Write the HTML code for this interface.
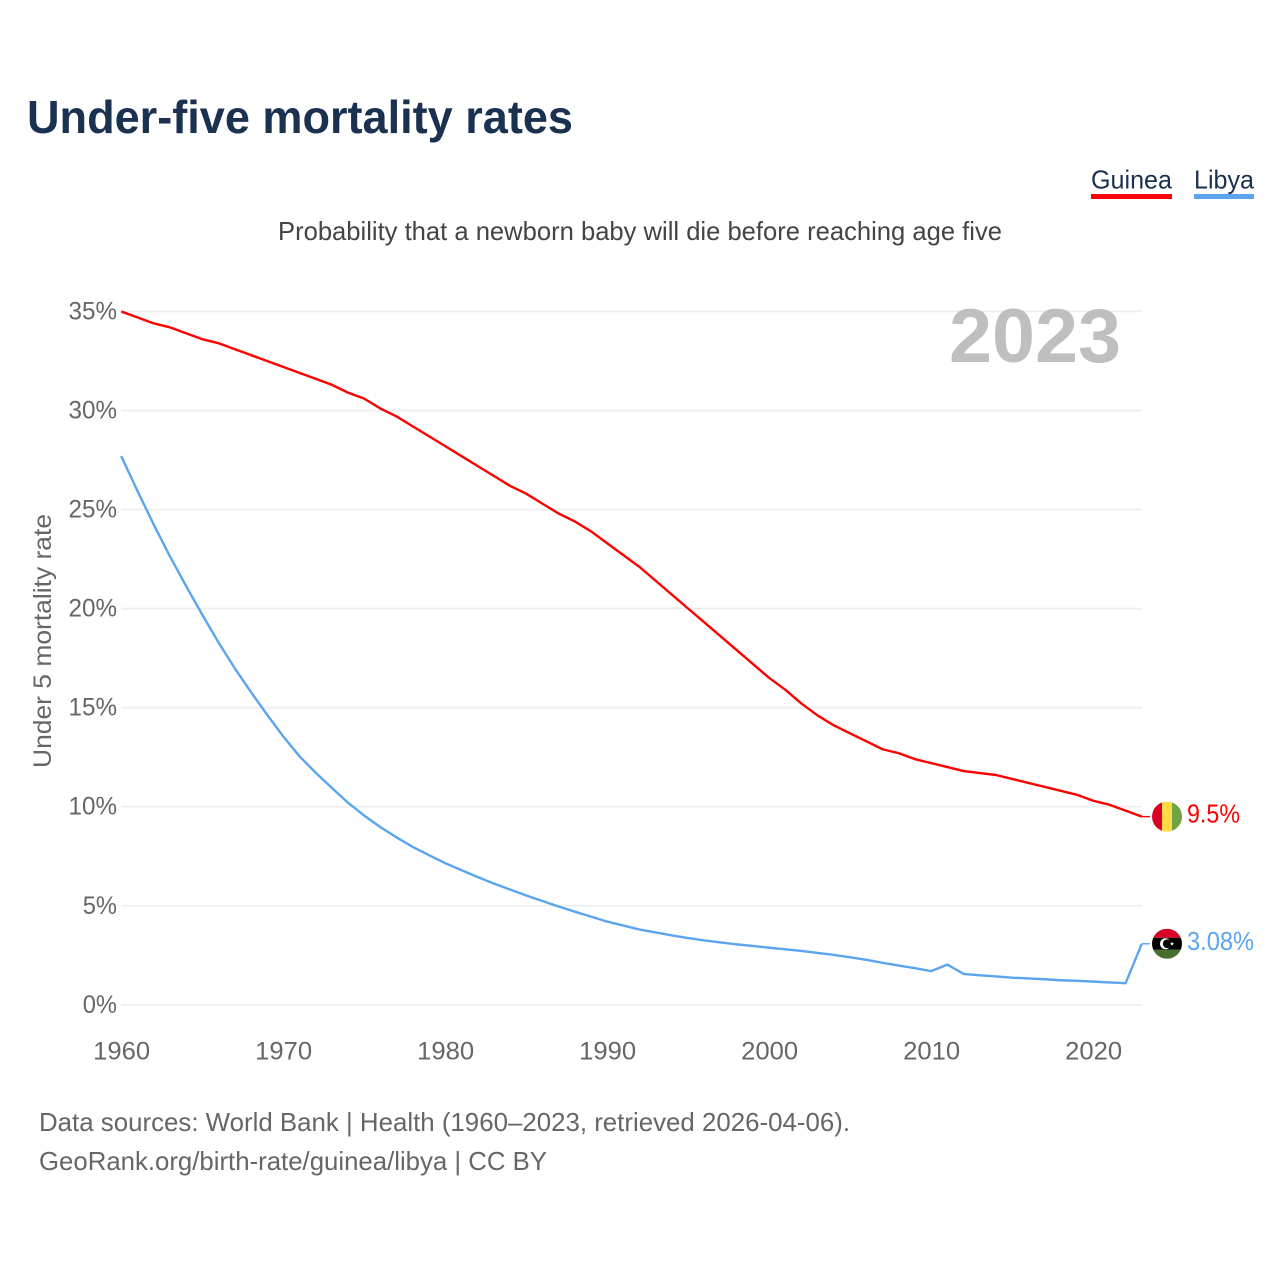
<!DOCTYPE html>
<html lang="en">
<head>
<meta charset="utf-8">
<title>Under-five mortality rates</title>
<style>
html,body{margin:0;padding:0;background:#fff;}
svg{display:block;font-family:"Liberation Sans",sans-serif;}
</style>
</head>
<body>
<svg id="chart" xmlns="http://www.w3.org/2000/svg" width="1280" height="1280" viewBox="0 0 1280 1280">
  <defs>
    <clipPath id="flag-clip-guinea"><circle id="clip-guinea" r="15"></circle></clipPath>
    <clipPath id="flag-clip-libya"><circle id="clip-libya" r="15"></circle></clipPath>
  </defs>
  <text x="27" y="133" font-size="46" font-weight="700" fill="#1a3150" textLength="546" lengthAdjust="spacingAndGlyphs">Under-five mortality rates</text>
  <g>
    <g>
      <text x="1091" y="188.5" font-size="26" fill="#1a3150" textLength="81" lengthAdjust="spacingAndGlyphs">Guinea</text>
      <rect x="1091" y="194" width="81" height="5" fill="#ff0000"></rect>
    </g>
    <g>
      <text x="1194" y="188.5" font-size="26" fill="#1a3150" textLength="60" lengthAdjust="spacingAndGlyphs">Libya</text>
      <rect x="1194" y="194" width="60" height="5" fill="#5aa5ee"></rect>
    </g>
  </g>
  <text x="278" y="240" font-size="26" fill="#444444" textLength="724" lengthAdjust="spacingAndGlyphs">Probability that a newborn baby will die before reaching age five</text>
  <g id="grid"></g>
  <g id="y-ticks"></g>
  <g id="x-ticks"></g>
  <text transform="translate(51,641) rotate(-90)" text-anchor="middle" font-size="25" fill="#666666" textLength="254" lengthAdjust="spacingAndGlyphs">Under 5 mortality rate</text>
  <text id="year-label" x="949" y="362" font-size="76" font-weight="700" fill="#bfbfbf" textLength="172" lengthAdjust="spacingAndGlyphs">2023</text>
  <path id="line-guinea" fill="none" stroke="#ff0000" stroke-width="2.4" stroke-linejoin="round"></path>
  <path id="line-libya" fill="none" stroke="#5aa5ee" stroke-width="2.4" stroke-linejoin="round"></path>
  <path id="connector-guinea" fill="none" stroke="#ff0000" stroke-width="1.4"></path>
  <path id="connector-libya" fill="none" stroke="#5aa5ee" stroke-width="1.4"></path>
  <g id="flag-guinea">
    <g clip-path="url(#flag-clip-guinea)">
      <rect x="-15" y="-15" width="10" height="30" fill="#d80027"></rect>
      <rect x="-5" y="-15" width="10" height="30" fill="#ffda44"></rect>
      <rect x="5" y="-15" width="10" height="30" fill="#6da544"></rect>
    </g>
  </g>
  <g id="flag-libya">
    <g clip-path="url(#flag-clip-libya)">
      <rect x="-15" y="-15" width="30" height="9" fill="#d80027"></rect>
      <rect x="-15" y="-6" width="30" height="12" fill="#000000"></rect>
      <rect x="-15" y="6" width="30" height="9" fill="#496e2d"></rect>
      <circle cx="-1.5" cy="0" r="5.5" fill="#ffffff"></circle>
      <circle cx="0.3" cy="0" r="4.4" fill="#000000"></circle>
      <polygon points="5,-2 5.6,-0.6 7,-0.6 5.9,0.3 6.3,1.8 5,0.9 3.7,1.8 4.1,0.3 3,-0.6 4.4,-0.6" fill="#ffffff"></polygon>
    </g>
  </g>
  <text id="label-guinea" x="1187" font-size="25.5" fill="#ff0000" textLength="53" lengthAdjust="spacingAndGlyphs"></text>
  <text id="label-libya" x="1187" font-size="25.5" fill="#5aa5ee" textLength="67" lengthAdjust="spacingAndGlyphs"></text>
  <text x="39" y="1131" font-size="26" fill="#666666" textLength="811" lengthAdjust="spacingAndGlyphs">Data sources: World Bank | Health (1960–2023, retrieved 2026-04-06).</text>
  <a><text x="39" y="1170" font-size="26" fill="#666666" textLength="508" lengthAdjust="spacingAndGlyphs">GeoRank.org/birth-rate/guinea/libya | CC BY</text></a>
</svg>
<script>
const startYear = 1960;
const yTickValues = [0, 5, 10, 15, 20, 25, 30, 35];
const xTickYears = [1960, 1970, 1980, 1990, 2000, 2010, 2020];
const guineaValues = [35.0,34.7,34.4,34.2,33.9,33.6,33.4,33.1,32.8,32.5,32.2,31.9,31.6,31.3,30.9,30.6,30.1,29.7,29.2,28.7,28.2,27.7,27.2,26.7,26.2,25.8,25.3,24.8,24.4,23.9,23.3,22.7,22.1,21.4,20.7,20.0,19.3,18.6,17.9,17.2,16.5,15.9,15.2,14.6,14.1,13.7,13.3,12.9,12.7,12.4,12.2,12.0,11.8,11.7,11.6,11.4,11.2,11.0,10.8,10.6,10.3,10.1,9.8,9.5];
const libyaValues = [27.7,25.95,24.25,22.65,21.15,19.7,18.3,17.0,15.8,14.65,13.55,12.55,11.72,10.95,10.2,9.55,8.97,8.45,7.97,7.55,7.15,6.8,6.45,6.12,5.82,5.52,5.24,4.96,4.7,4.45,4.2,4.0,3.8,3.65,3.5,3.37,3.25,3.15,3.05,2.97,2.88,2.8,2.72,2.62,2.52,2.4,2.27,2.12,1.98,1.85,1.7,2.03,1.56,1.49,1.43,1.37,1.33,1.29,1.24,1.21,1.17,1.13,1.09,3.08];
const guineaEndLabel = "9.5%";
const libyaEndLabel = "3.08%";

const NS = "http://www.w3.org/2000/svg";
function xScale(year) { return 121.2 + (year - 1960) * 16.2; }
function yScale(value) { return 1004.8 - value * 19.81; }

function linePath(values) {
  let d = "";
  values.forEach(function (v, i) {
    d += (i ? "L" : "M") + xScale(startYear + i).toFixed(2) + " " + yScale(v).toFixed(2);
  });
  return d;
}

const gridGroup = document.getElementById("grid");
const yGroup = document.getElementById("y-ticks");
yTickValues.forEach(function (v) {
  const line = document.createElementNS(NS, "line");
  
  
  line.setAttribute("x1", xScale(1960));
  line.setAttribute("x2", 1142);
  line.setAttribute("y1", yScale(v));
  line.setAttribute("y2", yScale(v));
  line.setAttribute("stroke", "#eeeeee");
  line.setAttribute("stroke-width", "1.7");
  gridGroup.appendChild(line);

  const label = document.createElementNS(NS, "text");
  
  
  const txt = v + "%";
  label.textContent = txt;
  const w = (txt.length - 1) * 14.25 + 20;
  label.setAttribute("x", 117 - w);
  label.setAttribute("y", yScale(v) + 8);
  label.setAttribute("font-size", "25");
  label.setAttribute("fill", "#666666");
  label.setAttribute("textLength", w);
  label.setAttribute("lengthAdjust", "spacingAndGlyphs");
  yGroup.appendChild(label);
});

const xGroup = document.getElementById("x-ticks");
xTickYears.forEach(function (yr) {
  const label = document.createElementNS(NS, "text");
  
  
  label.textContent = String(yr);
  label.setAttribute("x", xScale(yr) - 28);
  label.setAttribute("y", 1059.5);
  label.setAttribute("font-size", "25");
  label.setAttribute("fill", "#666666");
  label.setAttribute("textLength", 57);
  label.setAttribute("lengthAdjust", "spacingAndGlyphs");
  xGroup.appendChild(label);
});

function drawSeries(key, values, endLabel) {
  document.getElementById("line-" + key).setAttribute("d", linePath(values));
  const lastX = xScale(startYear + values.length - 1);
  const lastY = yScale(values[values.length - 1]);
  document.getElementById("connector-" + key).setAttribute("d", "M" + lastX + " " + lastY + "L1150 " + lastY);
  document.getElementById("flag-" + key).setAttribute("transform", "translate(1167," + lastY + ")");
  const clip = document.getElementById("clip-" + key);
  clip.setAttribute("cx", 0);
  clip.setAttribute("cy", 0);
  const lab = document.getElementById("label-" + key);
  lab.textContent = endLabel;
  lab.setAttribute("y", lastY + 6);
}
drawSeries("guinea", guineaValues, guineaEndLabel);
drawSeries("libya", libyaValues, libyaEndLabel);
</script>
</body>
</html>
